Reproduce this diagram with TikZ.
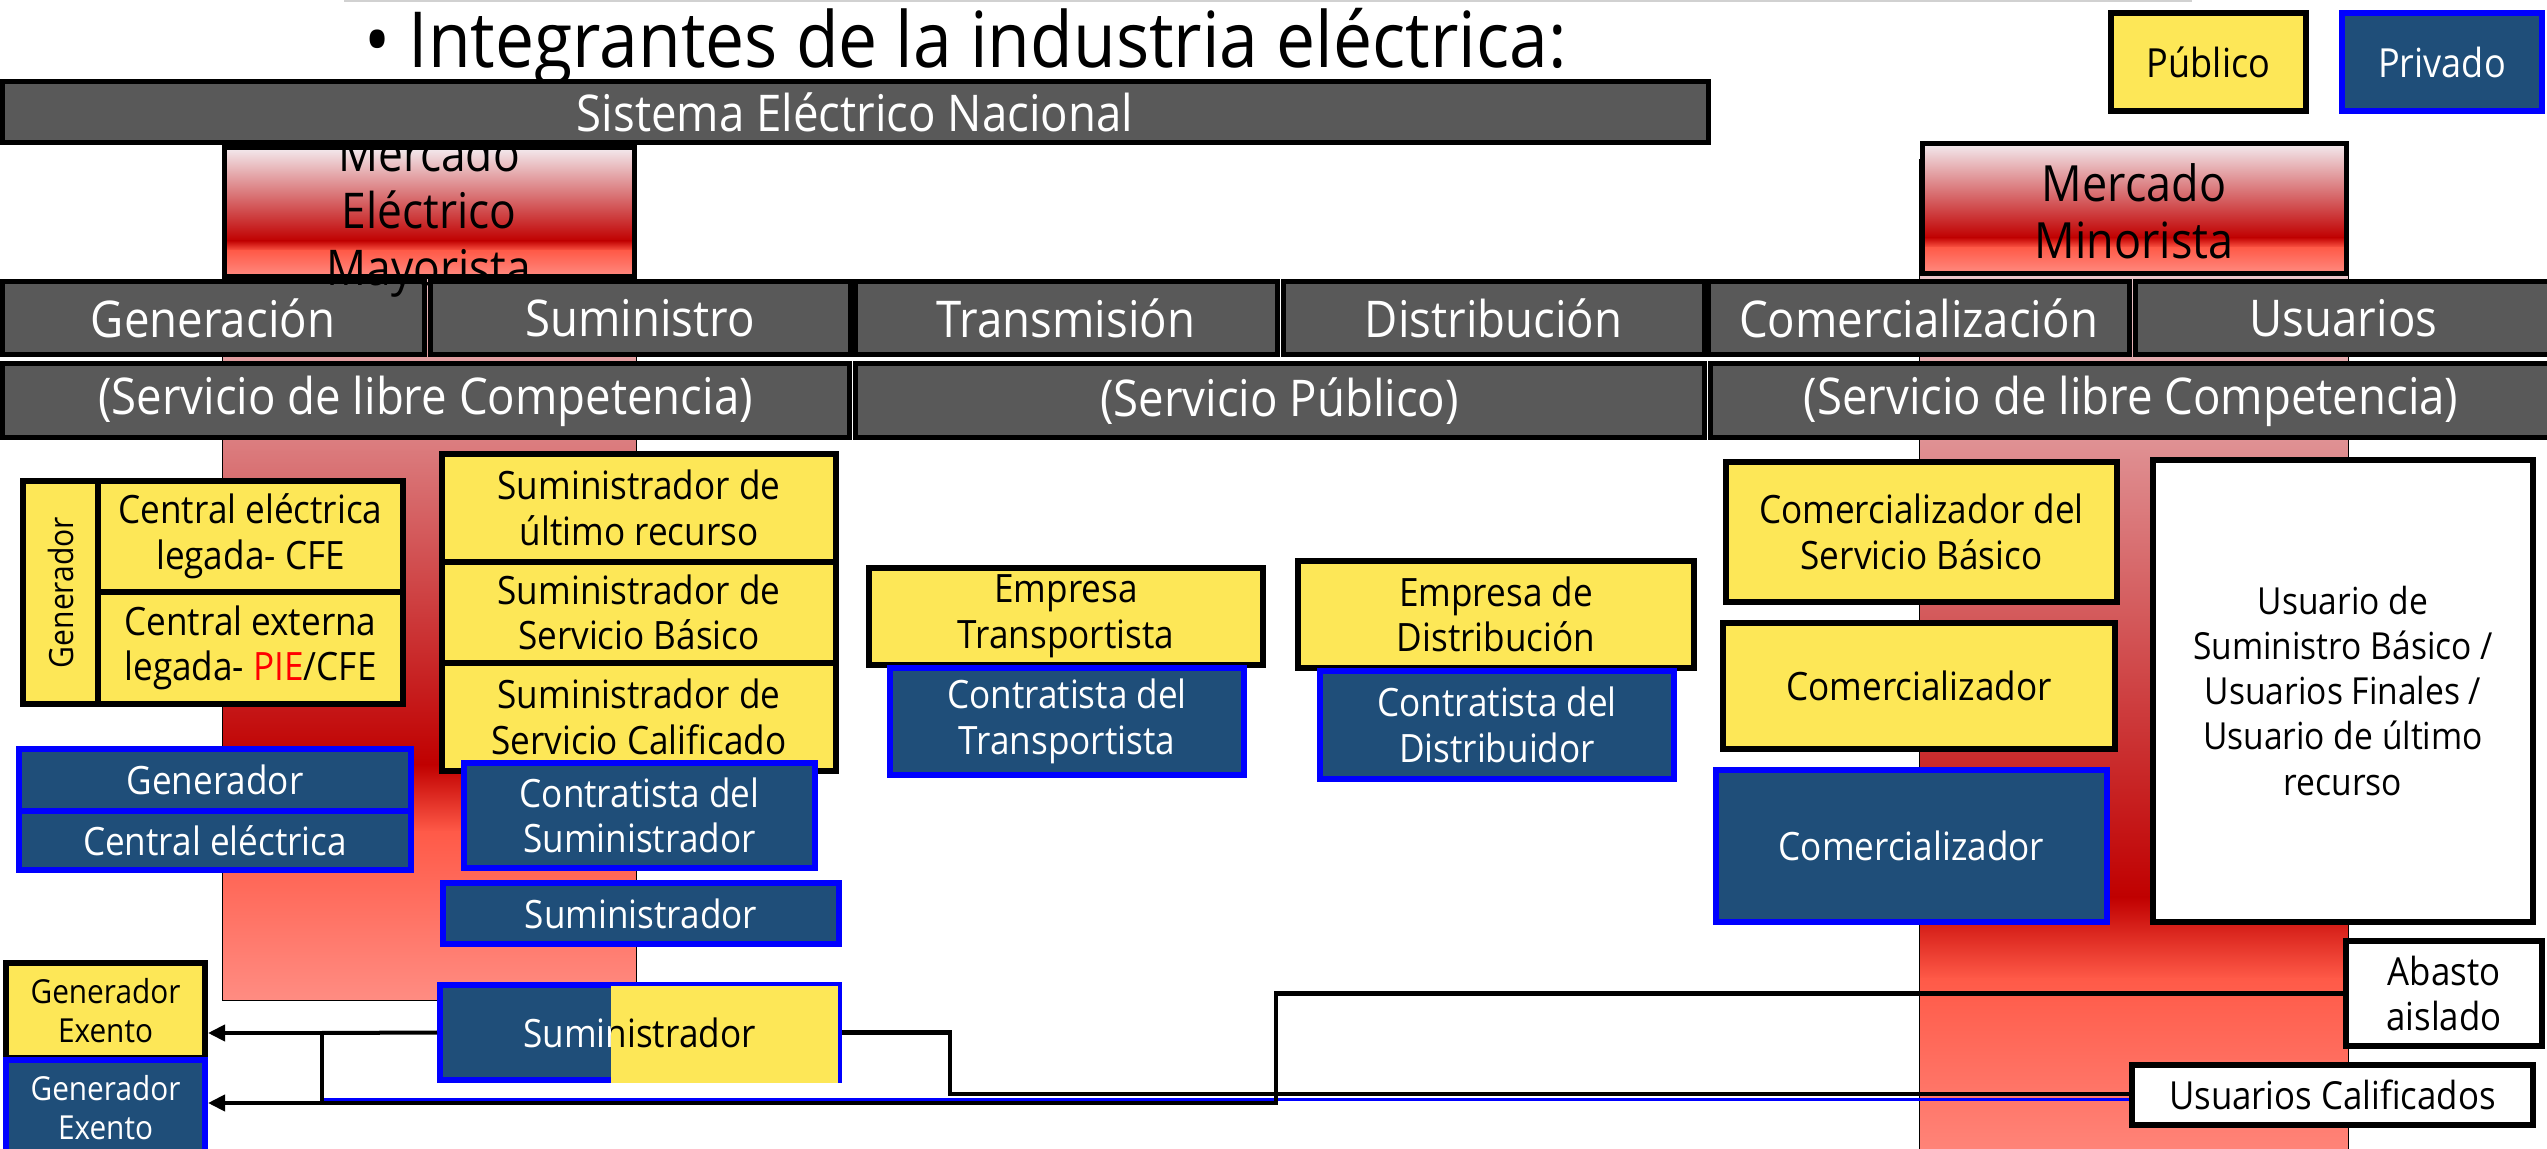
\documentclass[tikz,border=0pt]{standalone}
\usepackage{fontspec}
\setmainfont{Open Sans}[FakeStretch=0.9]
\usetikzlibrary{arrows.meta}
\definecolor{yel}{HTML}{FDE757}
\definecolor{navy}{HTML}{1F4E79}
\definecolor{pblue}{HTML}{0000FF}
\definecolor{bargrey}{HTML}{595959}
\definecolor{pred}{HTML}{FF0000}
\definecolor{mtop}{HTML}{F3EAEE}
\definecolor{mdark}{HTML}{C00000}
\definecolor{mlight}{HTML}{FF5A48}
\definecolor{mbot}{HTML}{FF8C82}
\newcommand{\fsz}[2]{\fontsize{#1pt}{#2pt}\selectfont}
% red market gradient: x1 y1 x2 y2 (y grows downwards)
\newcommand{\mshade}[4]{%
  \shade[top color=mtop, bottom color=mdark] (#1,#2) rectangle (#3,{#2+0.72*(#4-#2)});
  \shade[top color=mdark, bottom color=mlight] (#1,{#2+0.72*(#4-#2)-0.5}) rectangle (#3,{#2+0.80*(#4-#2)});
  \shade[top color=mlight, bottom color=mbot] (#1,{#2+0.80*(#4-#2)-0.5}) rectangle (#3,#4);
}
\begin{document}
\begin{tikzpicture}[x=0.01cm, y=-0.01cm,
  box/.style n args={4}{anchor=center, at={({(#1+#3)/2},{(#2+#4)/2})},
      minimum width={((#3)-(#1))*0.01cm}, minimum height={((#4)-(#2))*0.01cm}},
  ybox/.style={draw=black, line width=0.06cm, fill=yel, text=black, align=center, inner sep=0pt, font=\fsz{11.1}{13}},
  nbox/.style={draw=pblue, line width=0.06cm, fill=navy, text=white, align=center, inner sep=0pt, font=\fsz{11.1}{13}},
  wbox/.style={draw=black, line width=0.06cm, fill=white, text=black, align=center, inner sep=0pt, font=\fsz{11}{13}},
  bar/.style={draw=black, line width=0.05cm, fill=bargrey, text=white, inner sep=0pt, font=\fsz{14.4}{17}},
  frame/.style={draw=black, line width=0.05cm, inner sep=0pt},
  thinframe/.style={draw=black, line width=0.01cm, inner sep=0pt},
  conn/.style={draw=black, line width=0.04cm},
  arr/.style={conn, -{Triangle[length=0.17cm,width=0.16cm]}}
]
\useasboundingbox (0,0) rectangle (2547,1149);
\clip (0,0) rectangle (2547,1149);

% faint top line
\draw[black!18, line width=0.02cm] (344,1) -- (2192,1);

% market columns
\mshade{222}{160}{636}{1000}
\node[thinframe, box={222}{160}{636}{1000}] (colL) {};
\mshade{1919}{160}{2348}{1184}
\node[thinframe, box={1919}{160}{2348}{1184}] (colR) {};

% title
\node[anchor=base west, font=\fsz{22}{26}] (title) at (352,68) {• Integrantes de la industria eléctrica:};

% legend
\node[ybox, box={2111}{13}{2306}{111}, font=\fsz{11.4}{13}] (pub) {Público};
\node[nbox, box={2342}{13}{2542}{111}, font=\fsz{11.4}{13}] (priv) {Privado};

% row 1 bars and markets
\node[bar, box={2}{282}{424}{355}] (rgen) {Generación};
\mshade{224}{148}{634}{277}
\node[frame, box={224}{148}{634}{277}] (mem) {};
\node[font=\fsz{14}{16.2}, align=center, text=black] (memt) at (429,216) {Mercado\\Eléctrico\\Mayorista};
\mshade{1922}{144}{2346}{274}
\node[frame, box={1922}{144}{2346}{274}] (mmin) {};
\node[font=\fsz{14.2}{16.2}, align=center, text=black] (mmint) at (2134,211) {Mercado\\Minorista};
\node[bar, box={2}{82}{1708}{143}] (sen) {Sistema Eléctrico Nacional};
\node[bar, box={430}{282}{850}{355}] (rsum) {Suministro};
\node[bar, box={855}{282}{1277}{355}] (rtra) {Transmisión};
\node[bar, box={1283}{282}{1704}{355}] (rdis) {Distribución};
\node[bar, box={1708}{282}{2129}{355}] (rcom) {Comercialización};
\node[bar, box={2135}{282}{2552}{355}] (rusu) {Usuarios};
% row 2 bars
\node[bar, box={2}{364}{849}{438}] (svc1) {(Servicio de libre Competencia)};
\node[bar, box={855}{364}{1704}{438}] (svc2) {(Servicio Público)};
\node[bar, box={1710}{364}{2552}{438}] (svc3) {(Servicio de libre Competencia)};

% generation
\node[ybox, box={23}{481}{98}{704}] (genv) {};
\node[rotate=90, font=\fsz{9.5}{11}, text=black] (genvt) at (genv.center) {Generador};
\node[ybox, box={98}{481}{403}{592}] (cfe) {Central eléctrica\\legada- CFE};
\node[ybox, box={98}{592}{403}{704}] (pie) {Central externa\\legada- {\color{pred}PIE}/CFE};
\node[nbox, box={19}{749}{411}{811}] (genb) {Generador};
\node[nbox, box={19}{811}{411}{870}] (ceb) {Central eléctrica};

% supply
\node[ybox, box={442}{454}{836}{562}] (sur) {Suministrador de\\último recurso};
\node[ybox, box={442}{562}{836}{663}] (ssb) {Suministrador de\\Servicio Básico};
\node[ybox, box={442}{663}{836}{771}] (ssc) {Suministrador de\\Servicio Calificado};
\node[nbox, box={464}{763}{815}{868}] (csum) {Contratista del\\Suministrador};
\node[nbox, box={443}{883}{839}{944}] (sumb) {Suministrador};

% transmission / distribution
\node[ybox, box={869}{568}{1263}{665}] (etr) {Empresa\\Transportista};
\node[nbox, box={890}{668}{1244}{775}] (ctr) {Contratista del\\Transportista};
\node[ybox, box={1298}{561}{1694}{668}] (edi) {Empresa de\\Distribución};
\node[nbox, box={1320}{671}{1674}{779}] (cdi) {Contratista del\\Distribuidor};

% commercialization / users
\node[ybox, box={1726}{462}{2117}{602}] (csb) {Comercializador del\\Servicio Básico};
\node[ybox, box={1723}{623}{2115}{749}] (comy) {Comercializador};
\node[nbox, box={1716}{770}{2107}{922}] (comb) {Comercializador};
\node[wbox, box={2153}{460}{2533}{922}, font=\fsz{10.6}{12.8}] (usr) {Usuario de\\Suministro Básico /\\Usuarios Finales /\\Usuario de último\\recurso};
\node[wbox, box={2346}{941}{2542}{1046}] (abasto) {Abasto\\aislado};
\node[wbox, box={2132}{1065}{2533}{1125}] (ucal) {Usuarios Calificados};

% exempt generators
\node[ybox, box={6}{963}{205}{1058}, font=\fsz{9.4}{11.2}] (gey) {Generador\\Exento};
\node[nbox, box={6}{1060}{205}{1155}, font=\fsz{9.4}{11.2}] (geb) {Generador\\Exento};

% split supplier
\node[nbox, box={440}{985}{839}{1080}] (sumx) {};
\fill[yel] (611,986) rectangle (838,1083);
\begin{scope}
\clip (430,975) rectangle (611,1090);
\node[text=white, font=\fsz{11.1}{13}] (sumxw) at (sumx.center) {Suministrador};
\end{scope}
\begin{scope}
\clip (611,975) rectangle (850,1090);
\node[text=black, font=\fsz{11.1}{13}] (sumxb) at (sumx.center) {Suministrador};
\end{scope}

% connectors
\coordinate (j1) at (322,1033);
\coordinate (j2) at (322,1103);
\coordinate (j3) at (1276,1103);
\coordinate (j4) at (950,1094);
\coordinate (b1) at (324,1099);
\draw[pblue, line width=0.03cm] (b1) -- (b1 -| ucal.west);
\draw[conn] (sumx.west) -- (j1);
\draw[arr] (j1) -- (j1 -| gey.east);
\draw[conn] (j1) -- (j2);
\draw[arr] (abasto.west) -| (j3) -- (j3 -| geb.east);
\draw[conn] (sumx.east) -| (j4) -- (j4 -| ucal.west);
\end{tikzpicture}
\end{document}
